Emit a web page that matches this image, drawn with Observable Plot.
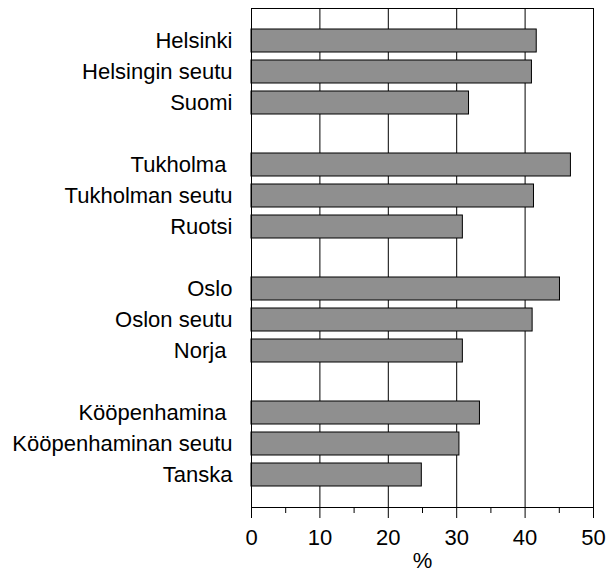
<!DOCTYPE html>
<html>
<head>
<meta charset="utf-8">
<script src="https://cdn.jsdelivr.net/npm/d3@7"></script>
<script src="https://cdn.jsdelivr.net/npm/@observablehq/plot@0.6"></script>
<style>
  html, body { margin: 0; padding: 0; background: #fff; }
</style>
</head>
<body>
<div id="chart"></div>
<script>
const categories = ["Helsinki", "Helsingin seutu", "Suomi",
  "Tukholma ", "Tukholman seutu", "Ruotsi",
  "Oslo", "Oslon seutu", "Norja ",
  "Kööpenhamina ", "Kööpenhaminan seutu", "Tanska"];
const values = [41.7, 41.0, 31.8, 46.7, 41.3, 30.9, 45.1, 41.1, 30.9, 33.4, 30.4, 24.9];
const xTicks = [0, 10, 20, 30, 40, 50];
const minorTicks = [5, 15, 25, 35, 45];
const axisTitle = ["%"];

const data = categories.map((c, i) => ({category: c, value: values[i]}));
const domain = [];
categories.forEach((c, i) => {
  if (i > 0 && i % 3 === 0) domain.push("gap" + i);
  domain.push(c);
});

const chart = Plot.plot({
  width: 614,
  height: 573,
  marginLeft: 251,
  marginRight: 21,
  marginTop: 8,
  marginBottom: 66,
  style: {fontFamily: "'Liberation Sans', Arial, sans-serif", fontSize: "22px", background: "#fff", color: "#000"},
  x: {domain: [0, 50]},
  y: {domain, range: [20.2, 494.8], paddingInner: 0.26, paddingOuter: 0.13},
  marks: [
    Plot.ruleX(xTicks, {stroke: "#000", strokeWidth: 1}),
    Plot.barX(data, {x: "value", y: "category", fill: "#8f8f8f", stroke: "#000", strokeWidth: 1}),
    Plot.frame({stroke: "#000", strokeWidth: 1}),
    Plot.axisX({ticks: xTicks, tickSize: 11, tickPadding: 11, fontSize: 22, label: null}),
    Plot.axisX({ticks: minorTicks, tickSize: 6, text: null, label: null}),
    Plot.axisY({ticks: categories, tickSize: 0, tickPadding: 19, fontSize: 22, label: null,
      tickFormat: d => d.replace(/ $/, "\u00a0")}),
    Plot.text(axisTitle, {text: d => d, frameAnchor: "bottom", dy: 53, fontSize: 22, lineAnchor: "middle"})
  ]
});
document.getElementById("chart").appendChild(chart);
</script>
</body>
</html>
